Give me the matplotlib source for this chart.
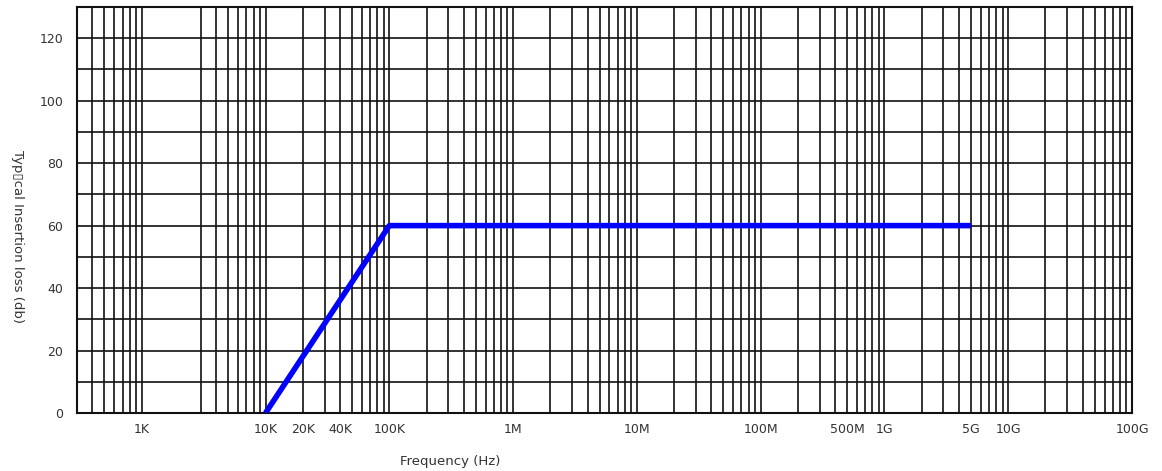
import matplotlib.pyplot as plt
import numpy as np

# insertion loss curve
freq_hz = [1e4, 1e5, 5e9]
loss_db = [0, 60, 60]

xtick_pos = [1e3, 1e4, 2e4, 4e4, 1e5, 1e6, 1e7, 1e8, 5e8, 1e9, 5e9, 1e10, 1e11]
xtick_lbl = ["1K", "10K", "20K", "40K", "100K", "1M", "10M", "100M",
             "500M", "1G", "5G", "10G", "100G"]
ytick_pos = [0, 20, 40, 60, 80, 100, 120]

# vertical grid: log subdivisions, the original chart has no 2K line
grid_x = [m * 1e2 for m in range(4, 10)]
for e in range(3, 11):
    for m in range(1, 10):
        v = m * 10.0 ** e
        if v != 2e3:
            grid_x.append(v)
grid_x.append(1e11)

fig = plt.figure(figsize=(11.62, 4.71), dpi=100)
ax = fig.add_axes([77 / 1162, 1 - 413 / 471, (1132 - 77) / 1162, (413 - 7) / 471])

ax.set_xscale("log")
ax.set_xlim(300, 1e11)
ax.set_ylim(0, 130)

for gx in grid_x:
    ax.axvline(gx, color="#111111", lw=1.2, zorder=1)
for gy in range(10, 130, 10):
    ax.axhline(gy, color="#111111", lw=1.2, zorder=1)

ax.plot(freq_hz, loss_db, color="#0000ff", lw=4, solid_capstyle="butt", zorder=3)

ax.xaxis.set_minor_locator(plt.NullLocator())
ax.set_xticks(xtick_pos)
ax.set_xticklabels(xtick_lbl)
ax.set_yticks(ytick_pos)
ax.tick_params(axis="both", length=0, labelsize=9, colors="#333333")
ax.tick_params(axis="x", pad=7)
ax.tick_params(axis="y", pad=10)

for s in ax.spines.values():
    s.set_color("#111111")
    s.set_linewidth(1.5)

fig.text(450 / 1162, 1 - 461 / 471, "Frequency (Hz)", ha="center", va="center",
         fontsize=9.5, color="#333333")
fig.text(17 / 1162, 1 - 237 / 471, "Typ\u25afcal Insertion loss (db)", ha="center",
         va="center", rotation=270, fontsize=9.5, color="#333333")

fig.savefig("out.png", dpi=100)
